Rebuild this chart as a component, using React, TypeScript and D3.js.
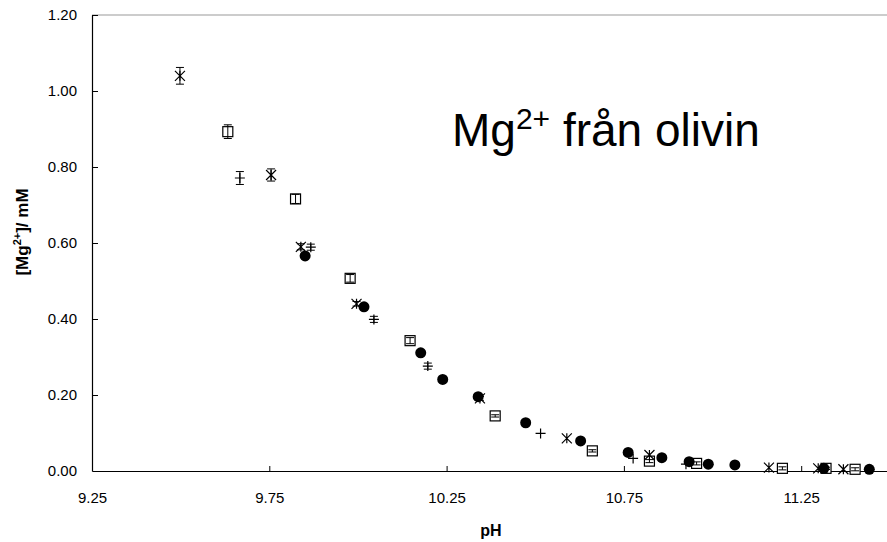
import { useEffect, useRef } from 'react';
import * as d3 from 'd3';

// pH and [Mg2+] (mM), one group per marker type
const kryssPH = [9.498, 9.755, 9.839, 9.996, 10.344, 10.589, 10.822, 11.159, 11.298, 11.369];
const kryssMg = [1.04, 0.779, 0.59, 0.44, 0.191, 0.086, 0.042, 0.009, 0.007, 0.0045];
const kryssErr = [0.022, 0.016, 0.008, 0.006, 0.005, 0, 0, 0, 0, 0];

const kvadratPH = [9.633, 9.824, 9.978, 10.147, 10.387, 10.661, 10.822, 10.955, 11.197, 11.32, 11.402];
const kvadratMg = [0.893, 0.716, 0.507, 0.343, 0.145, 0.053, 0.026, 0.02, 0.007, 0.007, 0.0045];
const kvadratErr = [0.018, 0.012, 0.01, 0.008, 0.003, 0.003, 0.004, 0.004, 0.004, 0.003, 0.004];

const plusPH = [9.667, 9.867, 10.045, 10.197, 10.515, 10.776, 10.925];
const plusMg = [0.771, 0.589, 0.399, 0.276, 0.099, 0.033, 0.018];
const plusErr = [0.017, 0.008, 0.008, 0.008, 0, 0, 0];

const cirkelPH = [9.851, 10.017, 10.177, 10.239, 10.339, 10.473, 10.628, 10.762, 10.857, 10.934, 10.988, 11.063, 11.314, 11.442];
const cirkelMg = [0.566, 0.432, 0.311, 0.241, 0.1955, 0.127, 0.079, 0.049, 0.035, 0.0245, 0.018, 0.016, 0.007, 0.0045];

const xTicks = [9.25, 9.75, 10.25, 10.75, 11.25];
const yTicks = [0, 0.2, 0.4, 0.6, 0.8, 1.0, 1.2];

const FONT = '"Liberation Sans", Arial, sans-serif';

export default function App() {
  const svgRef = useRef<SVGSVGElement>(null);
  const width = 887;
  const height = 542;

  useEffect(() => {
    if (!svgRef.current) return;
    const svg = d3.select(svgRef.current);
    svg.selectAll('*').remove();

    const margin = { top: 15, left: 92, bottom: 71 };
    const x = d3.scaleLinear().domain([9.25, 11.5]).range([margin.left, margin.left + 2.25 * 354.6]);
    const y = d3.scaleLinear().domain([0, 1.2]).range([height - margin.bottom, margin.top]);

    // top frame line
    svg.append('line')
      .attr('x1', x(9.25)).attr('x2', x(11.5))
      .attr('y1', y(1.2)).attr('y2', y(1.2))
      .attr('stroke', '#999').attr('stroke-width', 1.2);

    // axes, ticks pointing inward
    const yAxis = svg.append('g')
      .attr('transform', `translate(${x(9.25)},0)`)
      .call(d3.axisLeft(y).tickValues(yTicks).tickFormat(d3.format('.2f'))
        .tickSizeInner(-6).tickSizeOuter(0).tickPadding(15));
    const xAxis = svg.append('g')
      .attr('transform', `translate(0,${y(0)})`)
      .call(d3.axisBottom(x).tickValues(xTicks).tickFormat(d3.format('.2f'))
        .tickSizeInner(-5).tickSizeOuter(0).tickPadding(21));
    [yAxis, xAxis].forEach(a => {
      a.select('.domain').attr('stroke', '#000').attr('stroke-width', 1.2);
      a.selectAll('.tick line').attr('stroke', '#000');
      a.selectAll('.tick text')
        .attr('fill', '#000')
        .style('font-family', FONT)
        .style('font-size', '15px');
    });
    yAxis.selectAll('.tick').filter((d: any) => d === 0).select('line').remove();

    const marks = svg.append('g');
    const errLen = 4;

    const errorBars = (ph: number[], mg: number[], err: number[]) => {
      ph.forEach((p, i) => {
        const e = err[i];
        if (!e) return;
        const cx = x(p);
        marks.append('line').attr('x1', cx).attr('x2', cx)
          .attr('y1', y(mg[i] - e)).attr('y2', y(mg[i] + e))
          .attr('stroke', '#000').attr('stroke-width', 1);
        [mg[i] - e, mg[i] + e].forEach(v => {
          marks.append('line')
            .attr('x1', cx - errLen).attr('x2', cx + errLen)
            .attr('y1', y(v)).attr('y2', y(v))
            .attr('stroke', '#000').attr('stroke-width', 1);
        });
      });
    };

    // open squares
    kvadratPH.forEach((p, i) => {
      marks.append('rect')
        .attr('x', x(p) - 5).attr('y', y(kvadratMg[i]) - 5)
        .attr('width', 10).attr('height', 10)
        .attr('fill', 'white').attr('stroke', '#000').attr('stroke-width', 1.2);
    });
    errorBars(kvadratPH, kvadratMg, kvadratErr);

    // plus
    plusPH.forEach((p, i) => {
      const cx = x(p), cy = y(plusMg[i]);
      marks.append('path')
        .attr('d', `M${cx - 5},${cy}H${cx + 5}M${cx},${cy - 5}V${cy + 5}`)
        .attr('stroke', '#000').attr('stroke-width', 1.2).attr('fill', 'none');
    });
    errorBars(plusPH, plusMg, plusErr);

    // asterisk
    kryssPH.forEach((p, i) => {
      const cx = x(p), cy = y(kryssMg[i]);
      marks.append('path')
        .attr('d', `M${cx - 5},${cy - 5}L${cx + 5},${cy + 5}M${cx - 5},${cy + 5}L${cx + 5},${cy - 5}M${cx},${cy - 5}V${cy + 5}`)
        .attr('stroke', '#000').attr('stroke-width', 1.2).attr('fill', 'none');
    });
    errorBars(kryssPH, kryssMg, kryssErr);

    // filled circles
    marks.selectAll('circle')
      .data(cirkelPH.map((p, i) => ({ p, v: cirkelMg[i] })))
      .join('circle')
      .attr('cx', d => x(d.p))
      .attr('cy', d => y(d.v))
      .attr('r', 5.5)
      .attr('fill', '#000');

    // titles
    const title = svg.append('text')
      .attr('x', 452).attr('y', 146)
      .style('font-family', FONT).style('font-size', '46px').attr('fill', '#000');
    title.append('tspan').text('Mg');
    title.append('tspan').attr('dy', -17).style('font-size', '30px').text('2+');
    title.append('tspan').attr('dy', 17).text(' från olivin');

    svg.append('text')
      .attr('x', x(10.375)).attr('y', 536)
      .attr('text-anchor', 'middle')
      .style('font-family', FONT).style('font-size', '16px').style('font-weight', 'bold')
      .text('pH');

    const yl = svg.append('text')
      .attr('transform', `translate(28,232) rotate(-90)`)
      .attr('text-anchor', 'middle')
      .style('font-family', FONT).style('font-size', '17px').style('font-weight', 'bold');
    yl.append('tspan').text('[Mg');
    yl.append('tspan').attr('dy', -7).style('font-size', '11px').text('2+');
    yl.append('tspan').attr('dy', 7).text(']/ mM');
  }, []);

  return (
    <svg
      ref={svgRef}
      width={width}
      height={height}
      style={{ position: 'absolute', left: 0, top: 0, background: '#fff' }}
    />
  );
}
